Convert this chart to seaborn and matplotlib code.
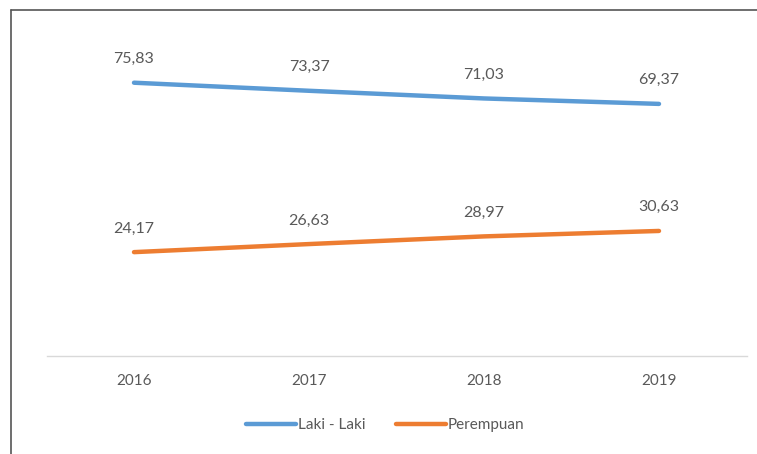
import matplotlib
matplotlib.use("Agg")
import matplotlib.pyplot as plt
import seaborn as sns
import pandas as pd
from matplotlib.lines import Line2D

years = ["2016", "2017", "2018", "2019"]
laki = [75.83, 73.37, 71.03, 69.37]
perempuan = [24.17, 26.63, 28.97, 30.63]
series_names = ["Laki - Laki", "Perempuan"]
colors = ["#5B9BD5", "#ED7D31"]

sns.set_style("white")
plt.rcParams["font.family"] = ["Lato", "DejaVu Sans"]

df = pd.DataFrame({
    "year": years * 2,
    "value": laki + perempuan,
    "series": [series_names[0]] * 4 + [series_names[1]] * 4,
})
df["x"] = df["year"].map({y: i for i, y in enumerate(years)})

fig = plt.figure(figsize=(7.57, 4.54), dpi=100)
W, H = 757, 454
ax = fig.add_axes([46.5 / W, 1 - 356 / H, 700 / W, (356 - 10) / H])

sns.lineplot(data=df, x="x", y="value", hue="series", palette=colors,
             linewidth=3.2, ax=ax, legend=False, solid_capstyle="round")

for vals in (laki, perempuan):
    for i, v in enumerate(vals):
        ax.annotate(f"{v:.2f}".replace(".", ","), (i, v), xytext=(0, 12),
                    textcoords="offset points", ha="center", va="bottom",
                    fontsize=11.5, color="#595959")

ax.set_xlim(-0.5, 3.5)
ax.set_ylim(-7.5, 98)
ax.set_xticks(range(len(years)))
ax.set_xticklabels(years, fontsize=11, color="#595959")
ax.tick_params(axis="x", length=0, pad=13)
ax.set_yticks([])
ax.set_xlabel("")
ax.set_ylabel("")
for s in ["top", "left", "right"]:
    ax.spines[s].set_visible(False)
ax.spines["bottom"].set_color("#D9D9D9")
ax.spines["bottom"].set_linewidth(1)

handles = [Line2D([0], [0], color=c, lw=3.2, solid_capstyle="round") for c in colors]
fig.legend(handles, series_names, loc="center", bbox_to_anchor=(385 / W, 1 - 425 / H),
           ncol=2, frameon=False, fontsize=11, labelcolor="#595959",
           handlelength=3.3, handletextpad=0.1, columnspacing=2.0)

# frame lines
fig.add_artist(Line2D([11 / W, 11 / W], [0, 1 - 10 / H], transform=fig.transFigure,
                      color="#555555", lw=1.2))
fig.add_artist(Line2D([11 / W, 1], [1 - 10 / H, 1 - 10 / H], transform=fig.transFigure,
                      color="#555555", lw=1.2))

fig.savefig("out.png", dpi=100)
